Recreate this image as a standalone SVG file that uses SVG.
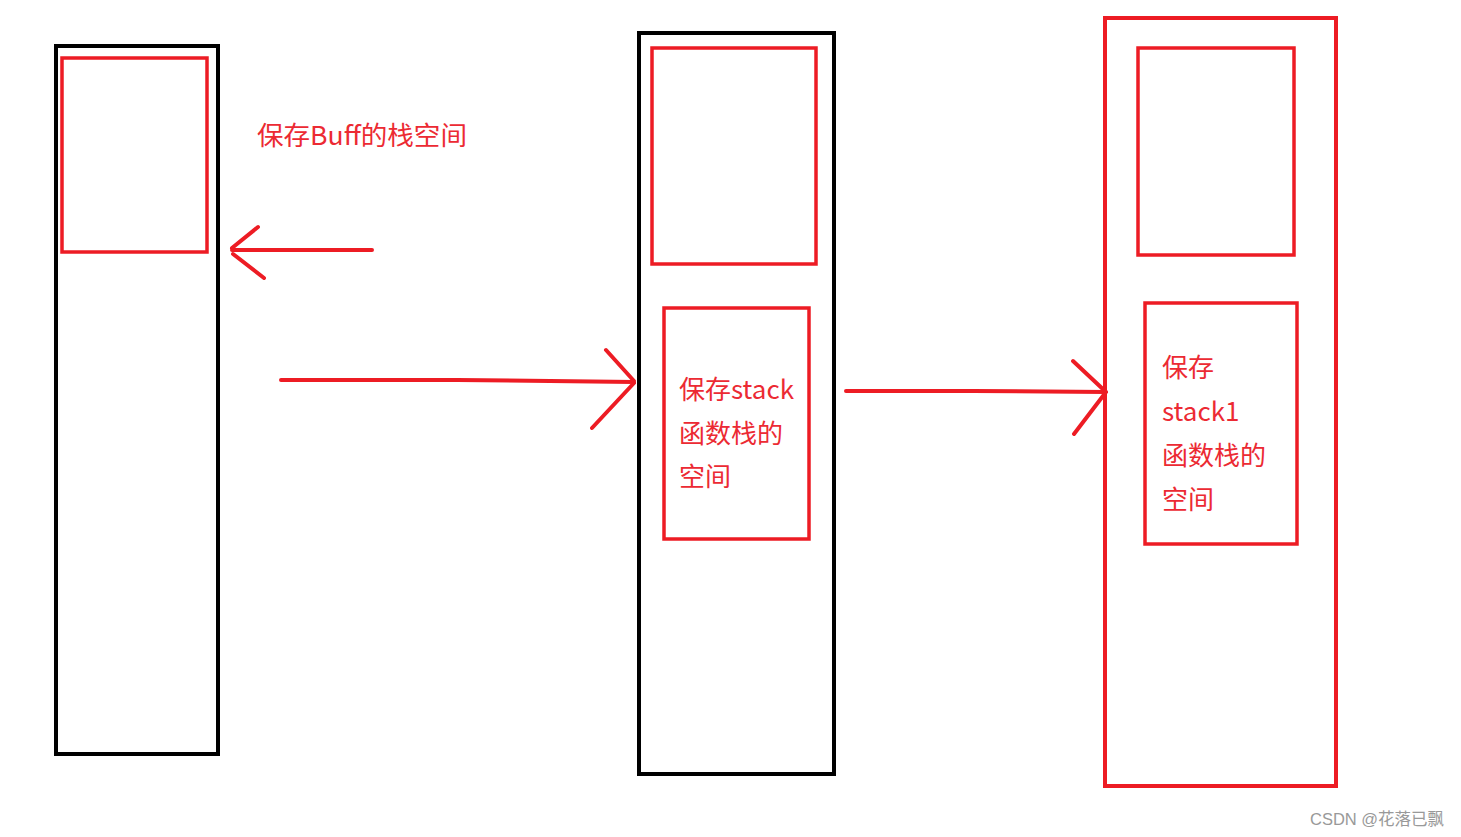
<svg xmlns="http://www.w3.org/2000/svg" width="1461" height="837" viewBox="0 0 1461 837">
<style>
.blk{fill:none;stroke:#000;stroke-width:4}
.red{fill:none;stroke:#ed1c24;stroke-width:3.5}
.ln{fill:none;stroke:#ed1c24;stroke-width:4;stroke-linecap:round;stroke-linejoin:round}
.t{font-family:"Noto Sans CJK SC","Noto Sans",sans-serif;font-size:26px;fill:#ec2a33}
.w{font-family:"Liberation Sans","Noto Sans CJK SC",sans-serif;font-size:16.5px;fill:#999}
</style>
<rect width="1461" height="837" fill="#fff"/>
<g id="node1">
<rect class="blk" x="56" y="46" width="162" height="708"/>
<rect class="red" x="62" y="58" width="145" height="194"/>
</g>
<g id="label-buff">
<text class="t" x="257" y="145" textLength="210" lengthAdjust="spacingAndGlyphs">保存Buff的栈空间</text>
</g>
<g id="node2">
<rect class="blk" x="639" y="33" width="195" height="741"/>
<rect class="red" x="652" y="48" width="164" height="216"/>
<rect class="red" x="664" y="308" width="145" height="231"/>
<text class="t" x="679" y="399">保存stack</text>
<text class="t" x="679" y="443">函数栈的</text>
<text class="t" x="679" y="486">空间</text>
</g>
<g id="node3">
<rect class="red" style="stroke-width:4" x="1105" y="18" width="231" height="768"/>
<rect class="red" x="1138" y="48" width="156" height="207"/>
<rect class="red" x="1145" y="303" width="152" height="241"/>
<text class="t" x="1162" y="377">保存</text>
<text class="t" x="1162" y="421">stack1</text>
<text class="t" x="1162" y="465">函数栈的</text>
<text class="t" x="1162" y="509">空间</text>
</g>
<g id="connectors">
<path class="ln" d="M372,250 L232,250 M232,248 L258,227 M233,254 L264,278"/>
<path class="ln" d="M281,380 L457,380 L634,382 M606,350 L634,381 M592,428 L634,383"/>
<path class="ln" d="M846,391 L973,391 L1106,392 M1073,361 L1106,392 M1074,434 L1106,392"/>
</g>
<text class="w" x="1310" y="825">CSDN @花落已飘</text>
</svg>
